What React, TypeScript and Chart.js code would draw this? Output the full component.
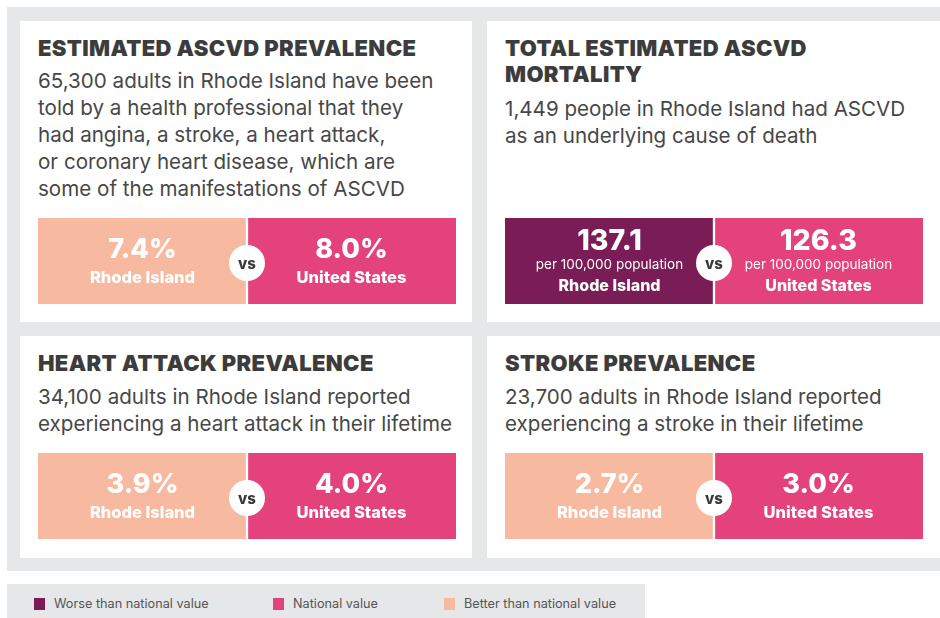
import React, { useEffect, useRef } from "react";
import { Chart, registerables } from "chart.js";

Chart.register(...registerables);

// ---------- data ----------
const categories = ["Rhode Island", "United States"];
const ascvdPrevalence = [7.4, 8.0];
const ascvdMortality = [137.1, 126.3];
const heartAttackPrevalence = [3.9, 4.0];
const strokePrevalence = [2.7, 3.0];

const panelTitles = [
  ["ESTIMATED ASCVD PREVALENCE"],
  ["TOTAL ESTIMATED ASCVD", "MORTALITY"],
  ["HEART ATTACK PREVALENCE"],
  ["STROKE PREVALENCE"],
];
const panelTexts = [
  [
    "65,300 adults in Rhode Island have been",
    "told by a health professional that they",
    "had angina, a stroke, a heart attack,",
    "or coronary heart disease, which are",
    "some of the manifestations of ASCVD",
  ],
  ["1,449 people in Rhode Island had ASCVD", "as an underlying cause of death"],
  ["34,100 adults in Rhode Island reported", "experiencing a heart attack in their lifetime"],
  ["23,700 adults in Rhode Island reported", "experiencing a stroke in their lifetime"],
];
// status of Rhode Island compared with the national value
const riStatus = ["better", "worse", "better", "better"];
const valueUnits = ["%", "", "%", "%"];
const valueSubtexts = ["", "per 100,000 population", "", ""];
const legendLabels = ["Worse than national value", "National value", "Better than national value"];
const legendKeys = ["worse", "national", "better"];

// ---------- styles ----------
const COLORS: Record<string, string> = {
  worse: "#7a1d57",
  national: "#e3427a",
  better: "#f8b9a1",
};
const GRAY = "#e6e7e9";
const TITLE_COLOR = "#3c3c3c";
const TEXT_COLOR = "#474747";
const FONT = "Inter, 'Noto Sans', sans-serif";

function CompareBox(props: {
  values: number[];
  unit: string;
  sub: string;
  status: string;
  left: number;
  top: number;
}) {
  const ref = useRef<HTMLCanvasElement | null>(null);
  useEffect(() => {
    if (!ref.current) return;
    const { values, unit, sub, status } = props;
    const colors = [COLORS[status], COLORS.national];
    const labelPlugin = {
      id: "boxLabels",
      afterDatasetsDraw(chart: any) {
        const ctx = chart.ctx;
        const meta = chart.getDatasetMeta(0);
        const area = chart.chartArea;
        const top = area.top;
        ctx.save();
        ctx.fillStyle = "#ffffff";
        ctx.textAlign = "center";
        ctx.textBaseline = "alphabetic";
        meta.data.forEach((bar: any, i: number) => {
          const x = bar.x;
          const v = values[i].toFixed(1) + unit;
          if (sub) {
            ctx.font = `800 28.5px ${FONT}`;
            ctx.fillText(v, x, top + 32);
            ctx.font = `400 13.5px ${FONT}`;
            ctx.fillText(sub, x, top + 51);
            ctx.font = `800 16px ${FONT}`;
            ctx.fillText(categories[i], x, top + 73);
          } else {
            ctx.font = `800 27px ${FONT}`;
            ctx.fillText(v, x, top + 40);
            ctx.font = `800 16.5px ${FONT}`;
            ctx.fillText(categories[i], x, top + 65);
          }
        });
        // vs circle
        const cx = (meta.data[0].x + meta.data[1].x) / 2;
        const cy = (area.top + area.bottom) / 2 + 2;
        ctx.beginPath();
        ctx.arc(cx, cy, 18, 0, Math.PI * 2);
        ctx.fillStyle = "#ffffff";
        ctx.fill();
        ctx.fillStyle = "#3a3a3a";
        ctx.font = `800 15px ${FONT}`;
        ctx.textBaseline = "middle";
        ctx.fillText("vs", cx, cy + 1);
        ctx.restore();
      },
    };
    const chart = new Chart(ref.current, {
      type: "bar",
      data: {
        labels: categories,
        datasets: [
          {
            data: values.map(() => [0, 1]) as any,
            backgroundColor: colors,
            borderColor: "#ffffff",
            borderWidth: ((c: any) =>
              c.dataIndex === 0
                ? { top: 0, bottom: 0, left: 0, right: 1.5 }
                : { top: 0, bottom: 0, left: 1.5, right: 0 }) as any,
            borderSkipped: false,
            barPercentage: 1,
            categoryPercentage: 1,
          },
        ],
      },
      options: {
        responsive: false,
        animation: false,
        devicePixelRatio: 1,
        layout: { padding: 0 },
        scales: {
          x: { display: false },
          y: { display: false, min: 0, max: 1 },
        },
        plugins: { legend: { display: false }, tooltip: { enabled: false } },
      },
      plugins: [labelPlugin],
    });
    return () => chart.destroy();
  }, []);
  return (
    <canvas
      ref={ref}
      width={418}
      height={86}
      style={{ position: "absolute", left: props.left, top: props.top, width: 418, height: 86 }}
    />
  );
}

const abs = (left: number, top: number, width?: number, height?: number): React.CSSProperties => ({
  position: "absolute",
  left,
  top,
  width,
  height,
});

function Panel(props: { idx: number; left: number; top: number; width: number; height: number; titleTop: number; textTop: number; boxTop: number; values: number[] }) {
  const { idx } = props;
  return (
    <div style={{ ...abs(props.left, props.top, props.width, props.height), background: "#ffffff" }}>
      <div
        style={{
          ...abs(18, props.titleTop),
          font: `900 22px/26px ${FONT}`,
          color: TITLE_COLOR,
          whiteSpace: "nowrap",
          letterSpacing: "0.35px",
        }}
      >
        {panelTitles[idx].map((l, i) => (
          <div key={i}>{l}</div>
        ))}
      </div>
      <div
        style={{
          ...abs(18, props.textTop),
          font: `400 20.6px/27px ${FONT}`,
          color: TEXT_COLOR,
          whiteSpace: "nowrap",
        }}
      >
        {panelTexts[idx].map((l, i) => (
          <div key={i}>{l}</div>
        ))}
      </div>
      <CompareBox
        values={props.values}
        unit={valueUnits[idx]}
        sub={valueSubtexts[idx]}
        status={riStatus[idx]}
        left={18}
        top={props.boxTop}
      />
    </div>
  );
}

export default function App() {
  return (
    <div style={{ ...abs(0, 0, 940, 618), overflow: "hidden", background: "#ffffff", fontFamily: FONT }}>
      <div style={{ ...abs(7, 7, 940, 564), background: GRAY }} />
      <Panel idx={0} left={20} top={21} width={452} height={301} titleTop={14} textTop={46} boxTop={197} values={ascvdPrevalence} />
      <Panel idx={1} left={487} top={21} width={453} height={301} titleTop={14} textTop={74} boxTop={197} values={ascvdMortality} />
      <Panel idx={2} left={20} top={336} width={452} height={222} titleTop={14} textTop={47} boxTop={117} values={heartAttackPrevalence} />
      <Panel idx={3} left={487} top={336} width={453} height={222} titleTop={14} textTop={47} boxTop={117} values={strokePrevalence} />
      <div style={{ ...abs(7, 584, 638, 40), background: GRAY }}>
        {legendLabels.map((l, i) => {
          const xs = [27, 266, 437];
          return (
            <React.Fragment key={i}>
              <div style={{ ...abs(xs[i], 14, 11, 12), background: COLORS[legendKeys[i]] }} />
              <div
                style={{
                  ...abs(xs[i] + 20, 10, undefined, 20),
                  font: `400 12.7px/20px ${FONT}`,
                  color: "#555555",
                  whiteSpace: "nowrap",
                }}
              >
                {l}
              </div>
            </React.Fragment>
          );
        })}
      </div>
    </div>
  );
}
